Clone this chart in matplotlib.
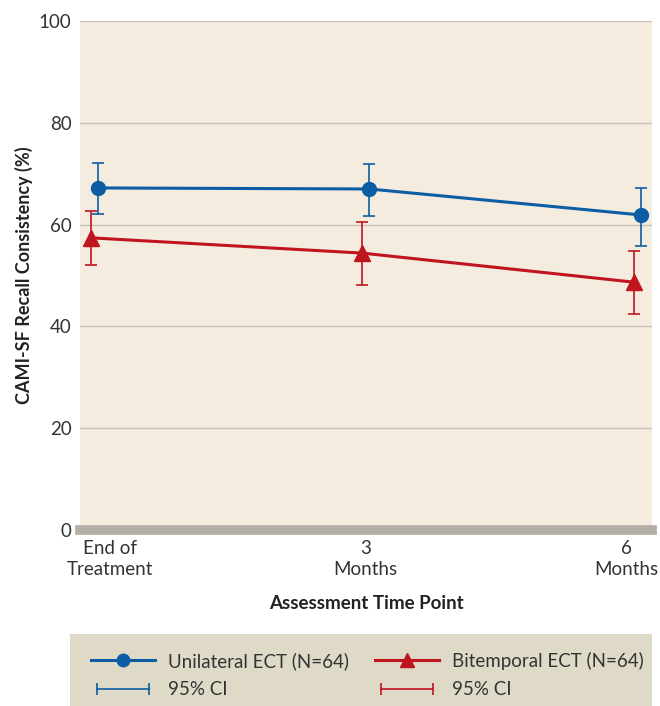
import matplotlib.pyplot as plt
from matplotlib.lines import Line2D
from matplotlib.patches import Rectangle
from matplotlib.legend_handler import HandlerLine2D
from matplotlib.transforms import ScaledTranslation
import numpy as np

plt.rcParams['font.family'] = ['Lato', 'DejaVu Sans']

timepoints = ['End of\nTreatment', '3\nMonths', '6\nMonths']

uni_mean = [67.2, 67.0, 61.9]
uni_lo = [62.1, 61.7, 55.8]
uni_hi = [72.1, 71.9, 67.2]

bi_mean = [57.4, 54.4, 48.7]
bi_lo = [52.1, 48.1, 42.4]
bi_hi = [62.7, 60.5, 54.8]

blue = '#0b5ea3'
red = '#c0141f'
bg = '#f5ece0'
grid = '#c9c1b8'
txt = '#333333'

fig = plt.figure(figsize=(6.6, 7.06), dpi=100)
ax = fig.add_axes([80 / 660, 1 - 530 / 706, 572 / 660, 509 / 706])
ax.set_facecolor(bg)

x = np.arange(len(timepoints))
off = 0.013

uni_err = [np.array(uni_mean) - np.array(uni_lo), np.array(uni_hi) - np.array(uni_mean)]
bi_err = [np.array(bi_mean) - np.array(bi_lo), np.array(bi_hi) - np.array(bi_mean)]

ax.errorbar(x - off, bi_mean, yerr=bi_err, fmt='none', ecolor=red, elinewidth=1.2,
            capsize=4, capthick=1.2, zorder=3)
ax.plot(x - off, bi_mean, color=red, lw=2.2, marker='^', ms=11, zorder=4)
ax.errorbar(x + off, uni_mean, yerr=uni_err, fmt='none', ecolor=blue, elinewidth=1.2,
            capsize=4, capthick=1.2, zorder=3)
ax.plot(x + off, uni_mean, color=blue, lw=2.2, marker='o', ms=10, zorder=4)

ax.set_ylim(0, 100)
ax.set_xlim(-0.0535, 2.055)
ax.set_yticks([0, 20, 40, 60, 80, 100])
ax.yaxis.grid(True, color=grid, lw=1)
ax.set_axisbelow(True)
ax.axhline(0, color='#b5aea7', lw=7, clip_on=False, zorder=2)

ax.set_xticks(x)
ax.set_xticklabels(timepoints, linespacing=1.3)
ax.tick_params(axis='both', length=0, labelsize=13.5, colors=txt)
ax.tick_params(axis='x', pad=7)
ax.tick_params(axis='y', pad=6)
for s in ax.spines.values():
    s.set_visible(False)

# nudge outer tick labels like the original layout
shifts = [11, 0, -8]
for lab, dx in zip(ax.get_xticklabels(), shifts):
    lab.set_transform(lab.get_transform() + ScaledTranslation(dx / 72, 0, fig.dpi_scale_trans))

ax.set_xlabel('Assessment Time Point', fontsize=13.5, fontweight='bold', color='#222222', labelpad=12)
ax.set_ylabel('CAMI-SF Recall Consistency (%)', fontsize=13, fontweight='bold', color='#222222', labelpad=4)

# legend panel
fig.patches.append(Rectangle((70 / 660, 0), 582 / 660, 72 / 706, transform=fig.transFigure,
                             facecolor='#dfdac8', edgecolor='none', zorder=0))

h_uni = Line2D([], [], color=blue, lw=2.2, marker='o', ms=9)
h_bi = Line2D([], [], color=red, lw=2.2, marker='^', ms=10)
h_uci = Line2D([], [], color=blue, lw=1.2, marker='|', ms=9, mew=1.2)
h_bci = Line2D([], [], color=red, lw=1.2, marker='|', ms=9, mew=1.2)

leg = fig.legend([h_uni, h_uci, h_bi, h_bci],
                 ['Unilateral ECT (N=64)', '95% CI', 'Bitemporal ECT (N=64)', '95% CI'],
                 ncol=2, loc='center left', bbox_to_anchor=(76 / 660, 31 / 706),
                 frameon=False, fontsize=13.5, handlelength=3.4, handletextpad=0.7,
                 columnspacing=1.4, labelspacing=0.6, labelcolor=txt, borderpad=0.3,
                 handler_map={h_uci: HandlerLine2D(numpoints=2), h_bci: HandlerLine2D(numpoints=2)})

fig.savefig('out.png', dpi=100)
